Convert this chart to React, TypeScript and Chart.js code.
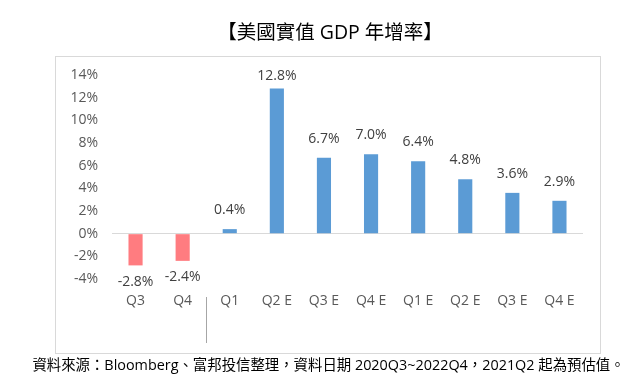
import React, { useEffect, useRef } from "react";
import { Chart, registerables } from "chart.js";

Chart.register(...registerables);

const TITLE = "【美國實值 GDP 年增率】";
const FOOTNOTE = "資料來源：Bloomberg、富邦投信整理，資料日期 2020Q3~2022Q4，2021Q2 起為預估值。";
const categories = ["Q3", "Q4", "Q1", "Q2 E", "Q3 E", "Q4 E", "Q1 E", "Q2 E", "Q3 E", "Q4 E"];
const gdpValues = [-2.8, -2.4, 0.4, 12.8, 6.7, 7.0, 6.4, 4.8, 3.6, 2.9];
const yMin = -4;
const yMax = 14;
const yStep = 2;

const FONT = "'Open Sans', 'Noto Sans CJK TC', sans-serif";
const POS_COLOR = "#5B9BD5";
const NEG_COLOR = "#FF7C80";

const framePlugin = {
  id: "frame",
  beforeDraw(chart: any) {
    const ctx = chart.ctx;
    ctx.save();
    ctx.fillStyle = "#ffffff";
    ctx.fillRect(0, 0, chart.width, chart.height);
    ctx.strokeStyle = "#d9d9d9";
    ctx.lineWidth = 1;
    ctx.strokeRect(55.5, 56.5, 545, 297);
    ctx.restore();
  },
  afterDraw(chart: any) {
    const ctx = chart.ctx;
    ctx.save();
    ctx.fillStyle = "#000000";
    ctx.textAlign = "center";
    ctx.textBaseline = "middle";
    ctx.font = `19.5px ${FONT}`;
    ctx.fillText(TITLE, 330, 33);
    ctx.font = `14.4px ${FONT}`;
    ctx.fillText(FOOTNOTE, 328.5, 366);
    // year divider between Q4 and Q1
    const xs = chart.scales.x;
    const xd = Math.round((xs.getPixelForValue(1) + xs.getPixelForValue(2)) / 2) + 0.5;
    ctx.strokeStyle = "#a6a6a6";
    ctx.lineWidth = 1;
    ctx.beginPath();
    ctx.moveTo(xd, 297);
    ctx.lineTo(xd, 343);
    ctx.stroke();
    ctx.restore();
  },
  afterDatasetsDraw(chart: any) {
    const ctx = chart.ctx;
    const meta = chart.getDatasetMeta(0);
    const area = chart.chartArea;
    ctx.save();
    ctx.fillStyle = "#404040";
    ctx.font = `14px ${FONT}`;
    ctx.textAlign = "center";
    ctx.textBaseline = "middle";
    meta.data.forEach((bar: any, i: number) => {
      const v = gdpValues[i];
      let y: number;
      if (v >= 0) {
        y = Math.max(bar.y - 19, area.top + 1);
      } else {
        y = bar.y + 16.5;
      }
      ctx.fillText(v.toFixed(1) + "%", bar.x, y);
    });
    ctx.restore();
  },
};

export default function App() {
  const ref = useRef<HTMLCanvasElement>(null);
  useEffect(() => {
    document.body.style.margin = "0";
    const chart = new Chart(ref.current!, {
      type: "bar",
      data: {
        labels: categories,
        datasets: [
          {
            data: gdpValues,
            backgroundColor: gdpValues.map((v) => (v < 0 ? NEG_COLOR : POS_COLOR)),
            barPercentage: 0.3,
            categoryPercentage: 1,
          },
        ],
      },
      options: {
        responsive: false,
        animation: false,
        devicePixelRatio: 1,
        layout: { padding: { left: 55, right: 56, top: 75, bottom: 62 } },
        plugins: { legend: { display: false }, tooltip: { enabled: false }, title: { display: false } },
        scales: {
          x: {
            grid: { display: false, drawTicks: false },
            border: { display: false },
            ticks: { color: "#595959", font: { family: FONT, size: 14 }, padding: 14, maxRotation: 0, autoSkip: false },
            afterFit(scale: any) {
              scale.height = 40;
            },
          },
          y: {
            min: yMin,
            max: yMax,
            grid: {
              drawTicks: false,
              color: (c: any) => (c.tick && c.tick.value === 0 ? "#d9d9d9" : "rgba(0,0,0,0)"),
            },
            border: { display: false },
            ticks: {
              stepSize: yStep,
              color: "#595959",
              font: { family: FONT, size: 14 },
              padding: 14,
              callback: (v: any) => v + "%",
            },
            afterFit(scale: any) {
              scale.width = 57;
            },
          },
        },
      },
      plugins: [framePlugin],
    });
    return () => chart.destroy();
  }, []);
  return (
    <div style={{ width: 639, height: 381 }}>
      <canvas ref={ref} width={639} height={381} />
    </div>
  );
}
